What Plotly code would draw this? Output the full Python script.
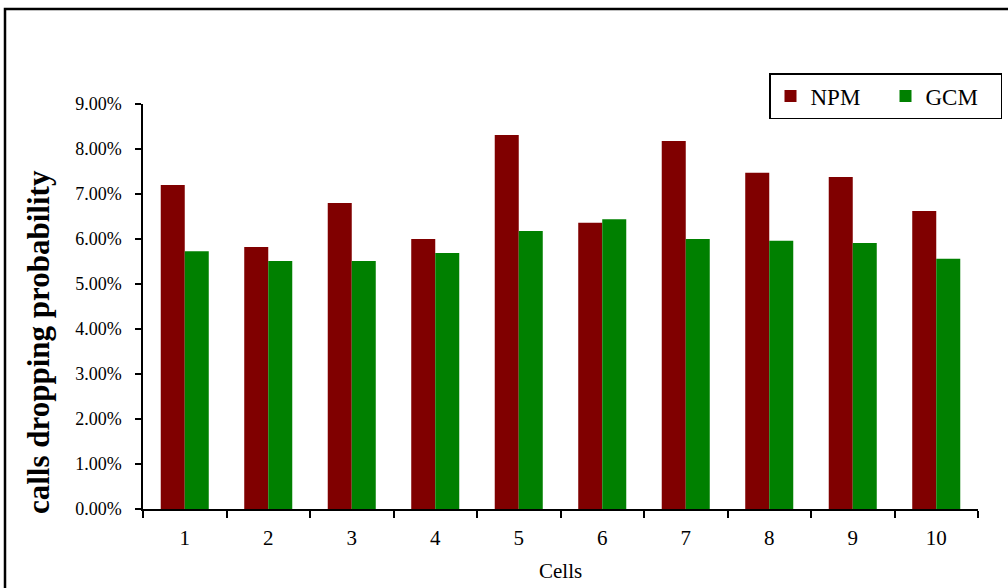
import plotly.graph_objects as go

# Call dropping probability (%) per cell for the two schemes
cells = ["1", "2", "3", "4", "5", "6", "7", "8", "9", "10"]
npm = [7.20, 5.82, 6.80, 6.00, 8.31, 6.36, 8.18, 7.47, 7.38, 6.62]
gcm = [5.73, 5.51, 5.51, 5.69, 6.18, 6.44, 6.00, 5.96, 5.91, 5.56]
y_ticks = [0, 1, 2, 3, 4, 5, 6, 7, 8, 9]
y_tick_text = ["0.00%", "1.00%", "2.00%", "3.00%", "4.00%",
               "5.00%", "6.00%", "7.00%", "8.00%", "9.00%"]

serif = "Liberation Serif"

fig = go.Figure()
fig.add_trace(go.Bar(name="NPM", x=cells, y=npm, marker=dict(color="#800000", line=dict(width=0))))
fig.add_trace(go.Bar(name="GCM", x=cells, y=gcm, marker=dict(color="#008000", line=dict(width=0))))

L, R, T, B = 143, 30, 104, 79
W, H = 1008, 588
pw, ph = W - L - R, H - T - B

def px(x):
    return (x - L) / pw

def py(y):
    return (H - B - y) / ph

fig.update_layout(
    width=W, height=H,
    margin=dict(l=L, r=R, t=T, b=B, autoexpand=False),
    paper_bgcolor="white", plot_bgcolor="white",
    barmode="group", bargap=0.425, bargroupgap=0,
    font=dict(family=serif, color="black"),
    showlegend=True,
    legend=dict(
        orientation="h",
        x=px(1002), xanchor="right",
        y=py(73), yanchor="top",
        bordercolor="black", borderwidth=1.5,
        font=dict(family=serif, size=23, color="black"),
        itemwidth=30, entrywidth=70, entrywidthmode="pixels",
        bgcolor="white",
    ),
    xaxis=dict(
        type="category",
        showline=True, linecolor="black", linewidth=1.5,
        ticks="outside", tickson="boundaries", ticklen=7, tickcolor="black", tickwidth=1.5,
        tickfont=dict(family=serif, size=21, color="black"),
        ticklabelstandoff=9,
        showgrid=False, zeroline=False,
    ),
    yaxis=dict(
        range=[0, 9],
        tickmode="array", tickvals=y_ticks, ticktext=y_tick_text,
        showline=True, linecolor="black", linewidth=1.5,
        ticks="outside", ticklen=6, tickcolor="black", tickwidth=1.5,
        tickfont=dict(family=serif, size=18, color="black"),
        ticklabelstandoff=10,
        showgrid=False, zeroline=False,
    ),
    annotations=[
        dict(text="Cells", xref="paper", yref="paper", x=px(560), y=py(571),
             xanchor="center", yanchor="middle", showarrow=False,
             font=dict(family=serif, size=21, color="black")),
        dict(text="<b>calls dropping probability</b>", xref="paper", yref="paper",
             x=px(38), y=py(342), xanchor="center", yanchor="middle",
             textangle=-90, showarrow=False,
             font=dict(family=serif, size=31, color="black")),
    ],
    shapes=[
        dict(type="rect", xref="paper", yref="paper",
             x0=px(5), x1=px(1012), y0=py(592), y1=py(9),
             line=dict(color="black", width=2.5), fillcolor="rgba(0,0,0,0)", layer="below"),
    ],
)

fig.write_html("out.html")
